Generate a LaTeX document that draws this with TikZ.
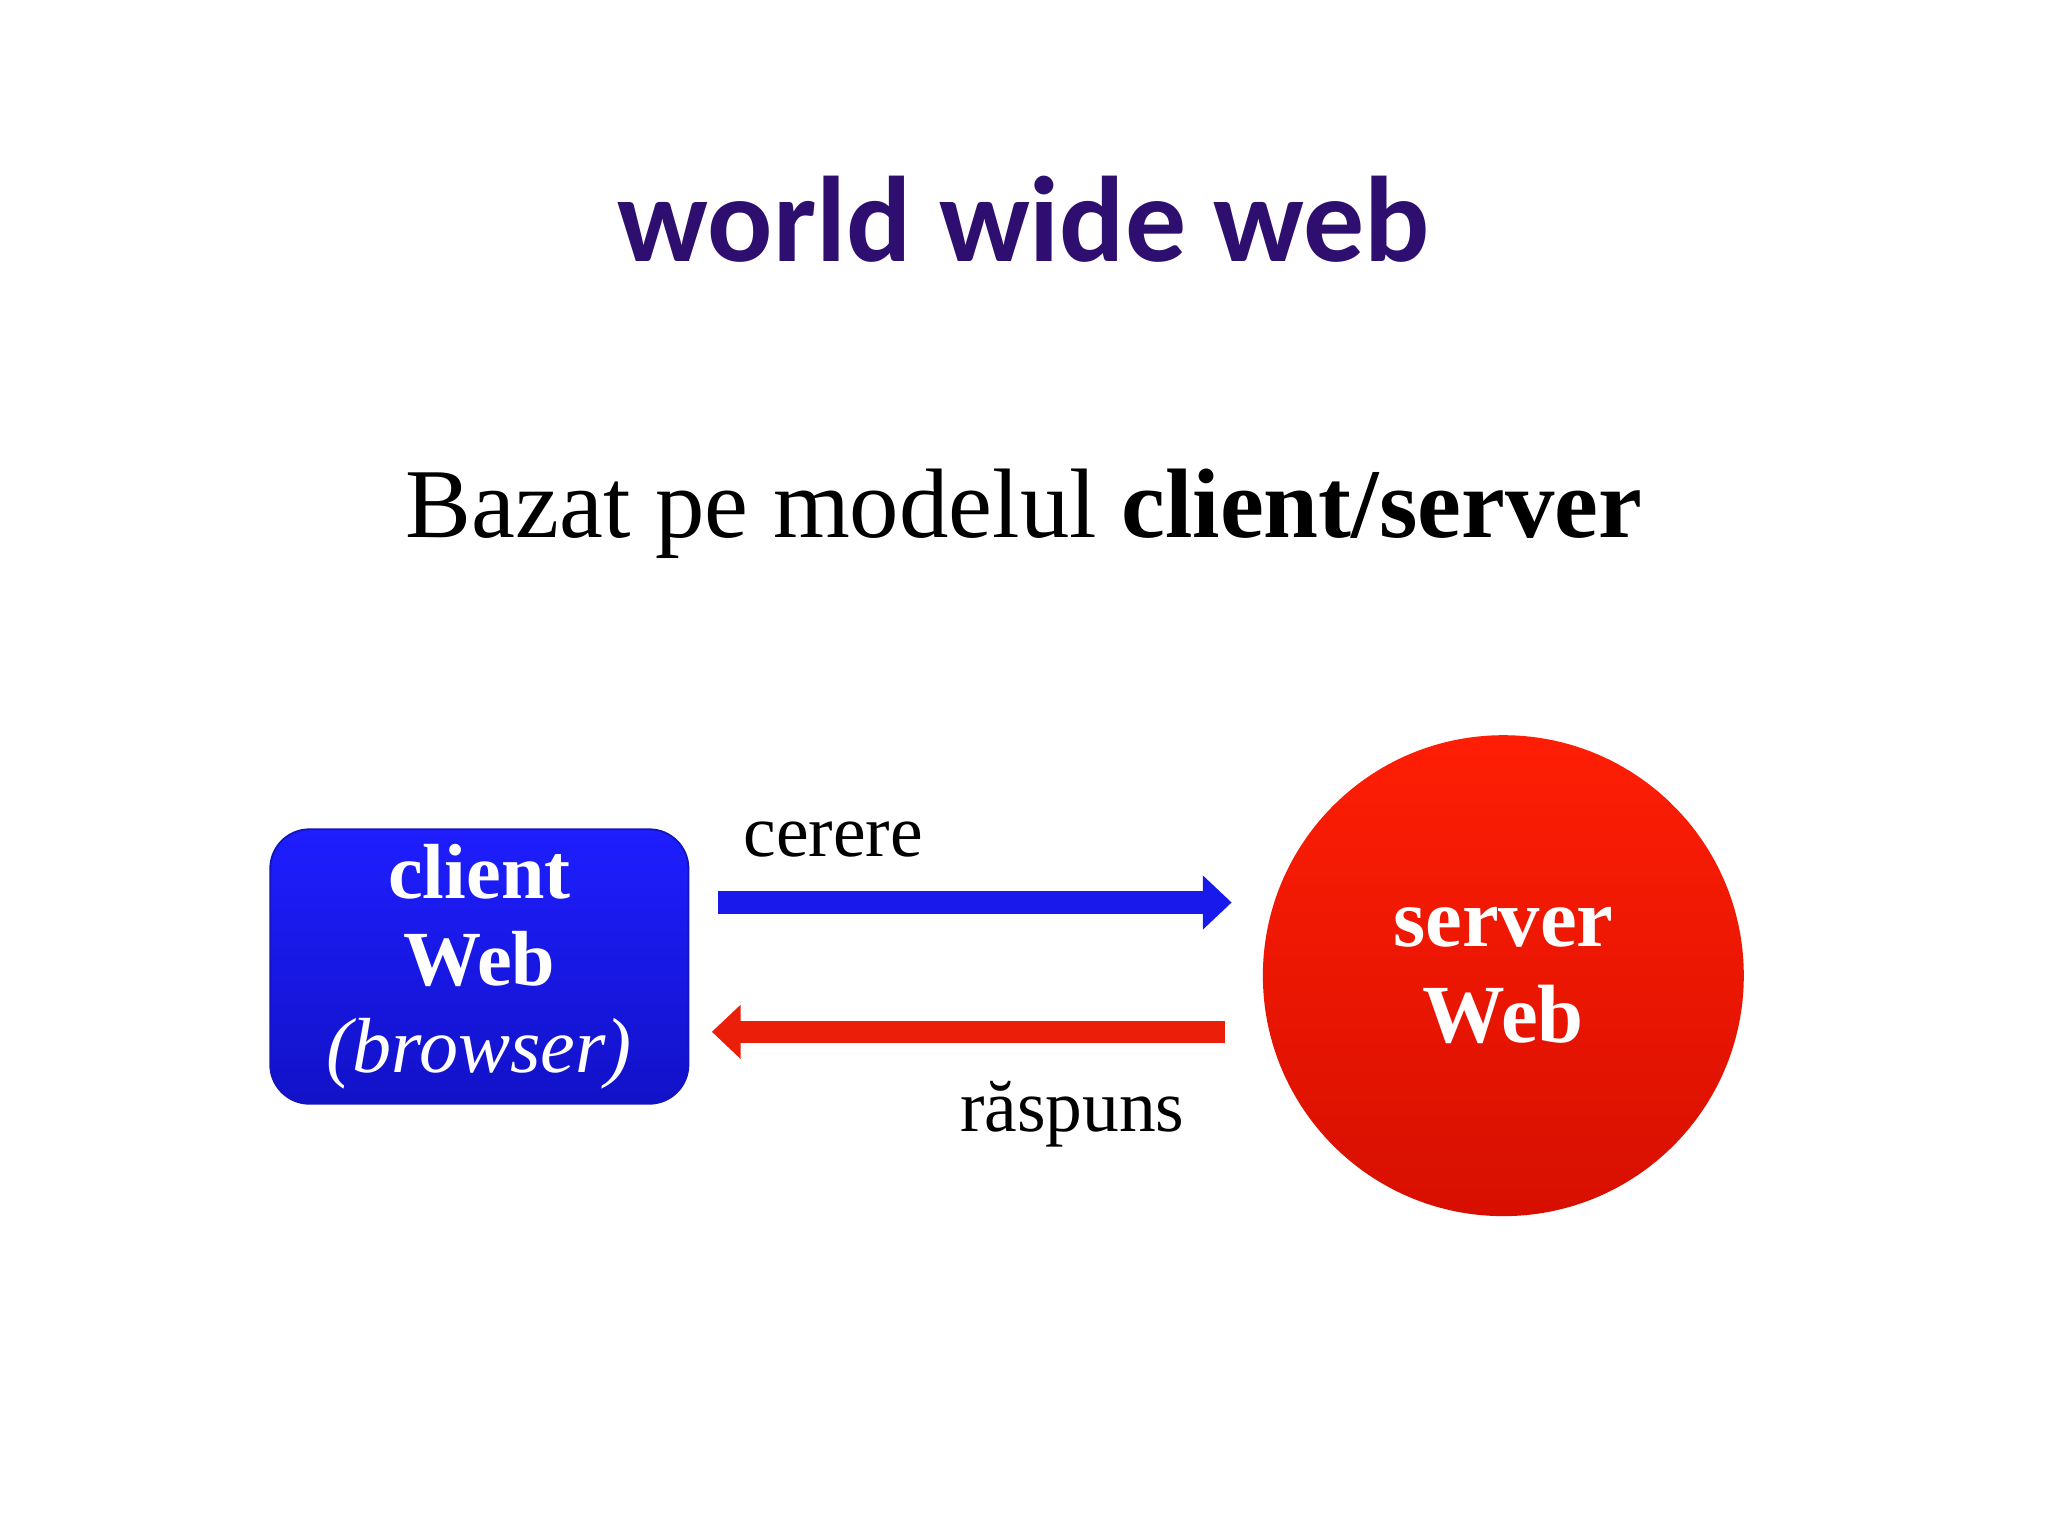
\documentclass[tikz,border=0pt]{standalone}
\usepackage{fontspec}
\setmainfont{Liberation Serif}
\newfontfamily\titlefont{Carlito}
\usetikzlibrary{arrows.meta}
\begin{document}
\begin{tikzpicture}[x=0.01cm,y=-0.01cm,
  lbl/.style={font=\fontsize{16pt}{20pt}\selectfont},
  wtxt/.style={text=white,font=\bfseries\fontsize{17pt}{19pt}\selectfont,align=center}]
\useasboundingbox[fill=white] (0,0) rectangle (1568,1176);
\node[text={rgb,255:red,46;green,14;blue,110},font=\titlefont\bfseries\fontsize{26.5pt}{32pt}\selectfont] (title) at (784,168) {world wide web};
\node[font=\fontsize{21.5pt}{26pt}\selectfont] (sub) at (784,393) {Bazat pe modelul \textbf{client/server}};
\node[rounded corners=0.3cm,minimum width=3.2cm,minimum height=2.1cm,inner sep=0pt,top color={rgb,255:red,30;green,30;blue,255},bottom color={rgb,255:red,18;green,18;blue,200},draw={rgb,255:red,20;green,20;blue,190},wtxt] (client) at (367,740) {client\\Web\\{\mdseries\itshape (browser)}};
\node[circle,minimum size=3.68cm,inner sep=0pt,top color={rgb,255:red,255;green,30;blue,5},bottom color={rgb,255:red,215;green,15;blue,0},wtxt,font=\bfseries\fontsize{18pt}{21pt}\selectfont] (server) at (1151,747) {server\\Web};
\coordinate (b1) at (550,691); \coordinate (b2) at (943,691);
\coordinate (r1) at (938,790); \coordinate (r2) at (545,790);
\draw[line width=0.17cm,color={rgb,255:red,25;green,25;blue,235},-{Triangle[length=0.22cm,width=0.4cm]}] (b1) -- (b2);
\draw[line width=0.17cm,color={rgb,255:red,235;green,30;blue,10},-{Triangle[length=0.22cm,width=0.4cm]}] (r1) -- (r2);
\node[lbl] (cer) at (638,643) {cerere};
\node[lbl] (rasp) at (821,853) {răspuns};
\end{tikzpicture}
\end{document}
